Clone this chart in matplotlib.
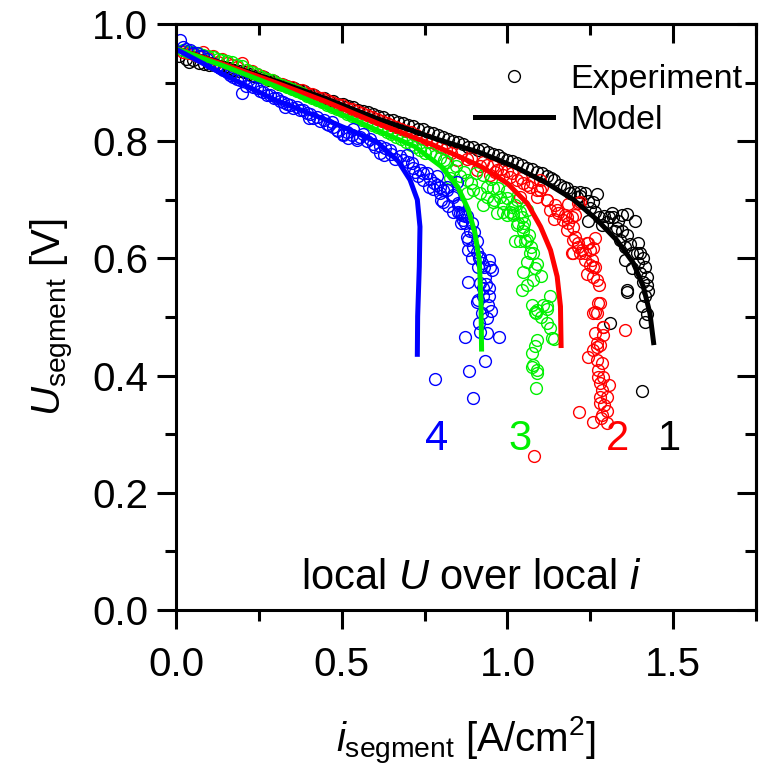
import matplotlib
matplotlib.use("Agg")
import matplotlib.pyplot as plt
import matplotlib.ticker as ticker
from matplotlib.lines import Line2D

plt.rcParams['font.family'] = ['Liberation Sans', 'DejaVu Sans']
plt.rcParams['mathtext.fontset'] = 'custom'
plt.rcParams['mathtext.rm'] = 'Liberation Sans'
plt.rcParams['mathtext.it'] = 'Liberation Sans:italic'

# ---- model curves ----
model1_i = [0.0, 0.15, 0.30, 0.45, 0.61, 0.79, 0.92, 1.02, 1.12, 1.20, 1.27, 1.33, 1.38, 1.41, 1.43, 1.442]
model1_u = [0.958, 0.931, 0.903, 0.873, 0.838, 0.803, 0.780, 0.757, 0.728, 0.700, 0.666, 0.631, 0.592, 0.552, 0.506, 0.452]

model2_i = [0.0, 0.15, 0.30, 0.45, 0.61, 0.77, 0.92, 1.00, 1.06, 1.10, 1.13, 1.15, 1.16, 1.162]
model2_u = [0.958, 0.930, 0.900, 0.868, 0.830, 0.795, 0.757, 0.728, 0.694, 0.654, 0.614, 0.569, 0.518, 0.447]

model3_i = [0.0, 0.15, 0.30, 0.45, 0.61, 0.72, 0.80, 0.85, 0.882, 0.902, 0.915, 0.920, 0.922]
model3_u = [0.958, 0.927, 0.894, 0.858, 0.818, 0.791, 0.757, 0.722, 0.683, 0.643, 0.597, 0.529, 0.441]

model4_i = [0.0, 0.15, 0.30, 0.45, 0.55, 0.61, 0.67, 0.706, 0.728, 0.736, 0.734, 0.729, 0.728]
model4_u = [0.957, 0.912, 0.870, 0.837, 0.813, 0.797, 0.766, 0.734, 0.700, 0.654, 0.586, 0.501, 0.432]

exp1_i = [0.01, 0.03, 0.05, 0.07, 0.10, 0.13, 0.16, 0.19, 0.22, 0.25, 0.28, 0.31, 0.34, 0.37,
          0.40, 0.43, 0.46, 0.49, 0.52, 0.55, 0.58, 0.61, 0.64, 0.67, 0.70, 0.73, 0.76, 0.79,
          0.82, 0.85, 0.88, 0.91, 0.94, 0.97, 1.00, 1.03, 1.06, 1.09, 1.12, 1.14, 1.17, 1.19,
          1.22, 1.234, 1.244, 1.259, 1.275, 1.285, 1.305, 1.315, 1.325, 1.335, 1.345, 1.345,
          1.34, 1.355, 1.355, 1.36, 1.375, 1.375, 1.385, 1.395, 1.395, 1.40, 1.405, 1.405,
          1.415, 1.415, 1.415, 1.422, 1.422, 1.31, 1.244,
          0.04, 0.085, 0.115, 0.145, 0.175, 0.205, 0.235, 0.265, 0.295, 0.325, 0.355, 0.385,
          0.415, 0.445, 0.475, 0.505, 0.535, 0.565, 0.595, 0.625, 0.655, 0.685, 0.715, 0.745,
          0.775, 0.805, 0.835, 0.865, 0.895, 0.925, 0.955, 0.985, 1.015, 1.045, 1.075, 1.105,
          1.13, 1.16, 1.18, 1.20, 1.21, 1.25, 1.265, 1.29, 1.30, 1.33, 1.36, 1.37, 1.39, 1.41,
          1.40, 1.41, 1.425, 1.42, 1.219, 1.269, 1.32, 1.36, 1.36]
exp1_u = [0.945, 0.941, 0.938, 0.934, 0.930, 0.927, 0.925, 0.920, 0.915, 0.910, 0.905, 0.898,
          0.892, 0.888, 0.880, 0.874, 0.868, 0.864, 0.860, 0.853, 0.849, 0.843, 0.837, 0.833,
          0.828, 0.821, 0.816, 0.810, 0.803, 0.799, 0.790, 0.785, 0.782, 0.776, 0.768, 0.762,
          0.755, 0.748, 0.740, 0.733, 0.722, 0.712, 0.706, 0.711, 0.698, 0.697, 0.671, 0.657,
          0.671, 0.677, 0.646, 0.663, 0.674, 0.646, 0.631, 0.620, 0.597, 0.546, 0.609, 0.583,
          0.663, 0.626, 0.592, 0.609, 0.518, 0.374, 0.586, 0.535, 0.492, 0.569, 0.555, 0.489,
          0.663,
          0.936, 0.931, 0.930, 0.926, 0.921, 0.918, 0.912, 0.909, 0.902, 0.896, 0.891, 0.886,
          0.879, 0.873, 0.868, 0.863, 0.858, 0.852, 0.847, 0.842, 0.837, 0.831, 0.826, 0.820,
          0.814, 0.807, 0.801, 0.796, 0.790, 0.786, 0.779, 0.772, 0.767, 0.760, 0.753, 0.745,
          0.737, 0.726, 0.720, 0.713, 0.705, 0.686, 0.680, 0.672, 0.662, 0.652, 0.640, 0.625,
          0.610, 0.600, 0.575, 0.560, 0.545, 0.505, 0.714, 0.710, 0.671, 0.676, 0.543]

exp2_i = [0.02, 0.05, 0.08, 0.11, 0.14, 0.17, 0.20, 0.23, 0.26, 0.29, 0.32, 0.35, 0.38, 0.41,
          0.44, 0.47, 0.50, 0.53, 0.56, 0.59, 0.62, 0.65, 0.68, 0.71, 0.74, 0.77, 0.80, 0.83,
          0.847, 0.877, 0.907, 0.917, 0.937, 0.947, 0.963, 0.968, 0.988, 0.998, 1.008, 1.028,
          1.038, 1.048, 1.058, 1.068, 1.088, 1.088, 1.098, 1.119, 1.128, 1.139, 1.144, 1.154,
          1.169, 1.174, 1.179, 1.184, 1.184, 1.194, 1.194, 1.199, 1.199, 1.204, 1.204, 1.214,
          1.214, 1.214, 1.219, 1.224, 1.234, 1.234, 1.239, 1.244, 1.249, 1.249, 1.254, 1.259,
          1.259, 1.264, 1.264, 1.264, 1.269, 1.274, 1.277, 1.264, 1.289, 1.289, 1.279, 1.259,
          1.269, 1.244, 1.269, 1.285, 1.274, 1.289, 1.274, 1.279, 1.307, 1.285, 1.279, 1.300,
          1.279, 1.285, 1.259, 1.300, 1.216, 1.282, 1.355, 1.081, 1.300, 1.290,
          0.035, 0.065, 0.095, 0.125, 0.155, 0.185, 0.215, 0.245, 0.275, 0.305, 0.335, 0.365,
          0.395, 0.425, 0.455, 0.485, 0.515, 0.545, 0.575, 0.605, 0.635, 0.665, 0.695, 0.725,
          0.755, 0.785, 0.815, 0.86, 0.89, 0.925, 0.955, 0.98, 1.015, 1.04, 1.075, 1.105,
          1.098, 1.118, 1.149, 1.179, 1.199, 1.219, 1.259, 1.239, 1.269, 1.279, 1.259, 1.289,
          1.269]
exp2_u = [0.952, 0.948, 0.953, 0.945, 0.940, 0.930, 0.933, 0.920, 0.912, 0.905, 0.898, 0.892,
          0.887, 0.880, 0.874, 0.867, 0.862, 0.855, 0.848, 0.842, 0.835, 0.828, 0.821, 0.815,
          0.806, 0.798, 0.790, 0.780, 0.768, 0.770, 0.751, 0.757, 0.760, 0.742, 0.748, 0.751,
          0.742, 0.749, 0.739, 0.734, 0.705, 0.728, 0.725, 0.722, 0.717, 0.705, 0.717, 0.700,
          0.683, 0.668, 0.691, 0.677, 0.666, 0.674, 0.648, 0.660, 0.692, 0.671, 0.609, 0.654,
          0.609, 0.637, 0.674, 0.694, 0.626, 0.620, 0.697, 0.614, 0.597, 0.609, 0.626, 0.626,
          0.614, 0.589, 0.597, 0.617, 0.569, 0.634, 0.586, 0.509, 0.506, 0.523, 0.555, 0.472,
          0.469, 0.483, 0.452, 0.444, 0.449, 0.432, 0.427, 0.421, 0.410, 0.398, 0.398, 0.388,
          0.384, 0.375, 0.364, 0.364, 0.353, 0.333, 0.321, 0.319, 0.337, 0.328, 0.478, 0.262,
          0.340, 0.350,
          0.950, 0.946, 0.942, 0.936, 0.934, 0.927, 0.921, 0.915, 0.907, 0.900, 0.895, 0.888,
          0.882, 0.876, 0.870, 0.864, 0.857, 0.851, 0.845, 0.838, 0.831, 0.825, 0.818, 0.811,
          0.803, 0.796, 0.787, 0.780, 0.772, 0.765, 0.757, 0.752, 0.745, 0.738, 0.730, 0.722,
          0.734, 0.700, 0.683, 0.671, 0.631, 0.609, 0.586, 0.574, 0.563, 0.523, 0.506, 0.483,
          0.455]

exp3_i = [0.02, 0.05, 0.08, 0.11, 0.14, 0.17, 0.20, 0.23, 0.26, 0.29, 0.32, 0.35, 0.38, 0.41,
          0.44, 0.47, 0.50, 0.53, 0.56, 0.59, 0.62, 0.65, 0.68, 0.71, 0.736, 0.766, 0.797, 0.817,
          0.837, 0.857, 0.827, 0.877, 0.897, 0.917, 0.877, 0.927, 0.937, 0.937, 0.927, 0.957,
          0.957, 0.958, 0.968, 0.978, 0.988, 0.988, 0.998, 0.998, 1.008, 1.013, 1.018, 1.023,
          1.023, 1.028, 1.033, 1.038, 1.038, 1.043, 1.043, 1.048, 1.048, 1.053, 1.058, 1.068,
          1.078, 1.083, 1.083, 1.086, 1.108, 1.118, 1.128, 1.128, 1.134, 1.088, 1.083, 1.073,
          1.078, 1.073, 1.088, 1.090, 1.085,
          0.035, 0.065, 0.095, 0.125, 0.155, 0.185, 0.215, 0.245, 0.275, 0.305, 0.335, 0.365,
          0.395, 0.425, 0.455, 0.485, 0.515, 0.545, 0.575, 0.605, 0.635, 0.665, 0.695, 0.72,
          0.75, 0.78, 0.81, 0.845, 0.87, 0.89, 0.905, 0.95, 0.97, 1.00, 1.03, 1.06, 1.05,
          1.065, 1.07, 1.09, 1.10, 1.06, 1.075, 1.10, 1.12, 1.018, 1.048, 1.058, 1.078, 1.088,
          1.118, 1.139]
exp3_u = [0.955, 0.952, 0.947, 0.944, 0.938, 0.935, 0.928, 0.918, 0.910, 0.904, 0.896, 0.889,
          0.882, 0.874, 0.867, 0.858, 0.851, 0.843, 0.836, 0.828, 0.820, 0.812, 0.803, 0.794,
          0.785, 0.780, 0.771, 0.765, 0.751, 0.740, 0.738, 0.734, 0.717, 0.712, 0.712, 0.742,
          0.722, 0.705, 0.691, 0.697, 0.720, 0.699, 0.677, 0.705, 0.694, 0.680, 0.674, 0.703,
          0.680, 0.688, 0.677, 0.691, 0.629, 0.657, 0.660, 0.629, 0.680, 0.671, 0.546, 0.646,
          0.577, 0.629, 0.594, 0.609, 0.563, 0.583, 0.509, 0.507, 0.521, 0.518, 0.535, 0.481,
          0.464, 0.461, 0.450, 0.439, 0.418, 0.415, 0.410, 0.404, 0.379,
          0.953, 0.950, 0.946, 0.940, 0.937, 0.930, 0.922, 0.914, 0.907, 0.900, 0.892, 0.886,
          0.878, 0.870, 0.862, 0.855, 0.847, 0.840, 0.832, 0.824, 0.816, 0.808, 0.799, 0.790,
          0.780, 0.775, 0.768, 0.757, 0.748, 0.728, 0.745, 0.735, 0.720, 0.715, 0.700, 0.683,
          0.660, 0.640, 0.620, 0.590, 0.570, 0.555, 0.520, 0.500, 0.490, 0.674, 0.654, 0.631,
          0.609, 0.512, 0.514, 0.463]

exp4_i = [0.012, 0.022, 0.042, 0.062, 0.082, 0.103, 0.123, 0.143, 0.163, 0.183, 0.198, 0.21,
          0.223, 0.243, 0.263, 0.284, 0.304, 0.324, 0.33, 0.344, 0.364, 0.384, 0.40, 0.404,
          0.425, 0.445, 0.46, 0.475, 0.485, 0.49, 0.505, 0.505, 0.52, 0.535, 0.545, 0.545,
          0.555, 0.565, 0.585, 0.60, 0.616, 0.616, 0.626, 0.646, 0.66, 0.676, 0.696, 0.70,
          0.711, 0.72, 0.736, 0.756, 0.746, 0.786, 0.762, 0.787, 0.777, 0.797, 0.797, 0.807,
          0.817, 0.837, 0.837, 0.807, 0.847, 0.852, 0.852, 0.862, 0.862, 0.837, 0.872, 0.877,
          0.872, 0.892, 0.887, 0.877, 0.907, 0.907, 0.882, 0.892, 0.922, 0.943, 0.953, 0.932,
          0.935, 0.882, 0.927, 0.943, 0.907, 0.922, 0.937, 0.937, 0.917, 0.974, 0.872, 0.932,
          0.885, 0.782, 0.897,
          0.03, 0.05, 0.072, 0.092, 0.113, 0.133, 0.153, 0.173, 0.193, 0.233, 0.253, 0.273,
          0.294, 0.314, 0.334, 0.354, 0.374, 0.394, 0.414, 0.435, 0.455, 0.47, 0.515, 0.53,
          0.575, 0.595, 0.63, 0.65, 0.685, 0.715, 0.73, 0.765, 0.775, 0.80, 0.82, 0.85, 0.86,
          0.90, 0.895, 0.915, 0.91, 0.93, 0.925, 0.945, 0.94, 0.95, 0.915, 0.746, 0.817,
          0.857, 0.867, 0.882, 0.917, 0.947, 0.917, 0.912]
exp4_u = [0.973, 0.961, 0.956, 0.950, 0.945, 0.933, 0.928, 0.922, 0.913, 0.907, 0.882, 0.895,
          0.899, 0.890, 0.884, 0.879, 0.873, 0.867, 0.858, 0.862, 0.859, 0.853, 0.840, 0.847,
          0.842, 0.836, 0.828, 0.825, 0.819, 0.818, 0.813, 0.811, 0.805, 0.820, 0.805, 0.802,
          0.808, 0.813, 0.803, 0.790, 0.791, 0.780, 0.776, 0.785, 0.770, 0.774, 0.777, 0.765,
          0.762, 0.748, 0.751, 0.746, 0.734, 0.740, 0.722, 0.725, 0.728, 0.711, 0.722, 0.717,
          0.717, 0.705, 0.708, 0.697, 0.730, 0.691, 0.694, 0.677, 0.674, 0.680, 0.672, 0.672,
          0.660, 0.660, 0.646, 0.637, 0.629, 0.611, 0.614, 0.600, 0.592, 0.598, 0.581, 0.569,
          0.557, 0.560, 0.535, 0.535, 0.526, 0.506, 0.498, 0.472, 0.475, 0.466, 0.465, 0.425,
          0.407, 0.394, 0.362,
          0.957, 0.951, 0.946, 0.940, 0.932, 0.925, 0.918, 0.910, 0.904, 0.893, 0.885, 0.879,
          0.873, 0.868, 0.863, 0.857, 0.853, 0.848, 0.840, 0.835, 0.830, 0.832, 0.815, 0.810,
          0.800, 0.795, 0.788, 0.778, 0.768, 0.755, 0.740, 0.735, 0.718, 0.700, 0.690, 0.680,
          0.660, 0.645, 0.620, 0.600, 0.585, 0.585, 0.550, 0.550, 0.520, 0.510, 0.490, 0.745,
          0.722, 0.677, 0.665, 0.631, 0.603, 0.586, 0.558, 0.529]

curve_labels = ["1", "2", "3", "4"]
label_i = [1.489, 1.333, 1.039, 0.787]
label_u = [0.292, 0.292, 0.292, 0.292]

colors = ["black", "#ff0000", "#00f000", "#0000ff"]

fig = plt.figure(figsize=(7.59, 7.75), dpi=100)
ax = fig.add_axes([0.232, 0.213, 0.764, 0.756])

exp_i = [exp1_i, exp2_i, exp3_i, exp4_i]
exp_u = [exp1_u, exp2_u, exp3_u, exp4_u]
mod_i = [model1_i, model2_i, model3_i, model4_i]
mod_u = [model1_u, model2_u, model3_u, model4_u]

for xs, ys, c in zip(exp_i, exp_u, colors):
    ax.plot(xs, ys, 'o', ls='none', ms=8.5, mfc='none', mec=c, mew=1.0)
for xs, ys, c in zip(mod_i, mod_u, colors):
    ax.plot(xs, ys, '-', color=c, lw=3.6, solid_capstyle='butt', solid_joinstyle='round')

for t, x, y, c in zip(curve_labels, label_i, label_u, colors):
    ax.text(x, y, t, color=c, fontsize=30, ha='center', va='center')

ax.text(0.89, 0.055, r'local $\mathit{U}$ over local $\mathit{i}$', fontsize=30,
        ha='center', va='center')

ax.set_xlim(0, 1.75)
ax.set_ylim(0, 1.0)
ax.xaxis.set_major_locator(ticker.MultipleLocator(0.5))
ax.xaxis.set_minor_locator(ticker.MultipleLocator(0.25))
ax.yaxis.set_major_locator(ticker.MultipleLocator(0.2))
ax.yaxis.set_minor_locator(ticker.MultipleLocator(0.1))
ax.xaxis.set_major_formatter(ticker.FormatStrFormatter('%.1f'))
ax.yaxis.set_major_formatter(ticker.FormatStrFormatter('%.1f'))
ax.tick_params(which='both', direction='out', width=2.2, labelsize=29, top=False, right=False)
ax.tick_params(which='major', length=14)
ax.tick_params(which='minor', length=8)
ax.tick_params(axis='x', pad=12)
ax.tick_params(axis='y', pad=6)
for s in ax.spines.values():
    s.set_linewidth(2.2)

top = ax.secondary_xaxis('top')
top.xaxis.set_major_locator(ticker.MultipleLocator(0.5))
top.xaxis.set_minor_locator(ticker.MultipleLocator(0.25))
top.tick_params(which='both', direction='in', width=2.2, labeltop=False)
top.tick_params(which='major', length=14)
top.tick_params(which='minor', length=8)
top.spines['top'].set_linewidth(2.2)

right = ax.secondary_yaxis('right')
right.yaxis.set_major_locator(ticker.MultipleLocator(0.2))
right.yaxis.set_minor_locator(ticker.MultipleLocator(0.1))
right.tick_params(which='both', direction='in', width=2.2, labelright=False)
right.tick_params(which='major', length=14)
right.tick_params(which='minor', length=8)
right.spines['right'].set_linewidth(2.2)

ax.set_xlabel(r'$\mathit{i}_{\mathrm{segment}}$ [A/cm$^{2}$]', fontsize=29, labelpad=22)
ax.set_ylabel(r'$\mathit{U}_{\mathrm{segment}}$ [V]', fontsize=29, labelpad=12)

handles = [Line2D([], [], marker='o', ls='none', ms=8.5, mfc='none', mec='black', mew=1.0),
           Line2D([], [], color='black', lw=3.6)]
ax.legend(handles, ['Experiment', 'Model'], loc='upper right', bbox_to_anchor=(1.0, 0.955),
          frameon=False, fontsize=24.5, handlelength=2.3, handletextpad=0.5, labelspacing=0.28,
          borderaxespad=0.0)

fig.savefig('out.png', dpi=100)
